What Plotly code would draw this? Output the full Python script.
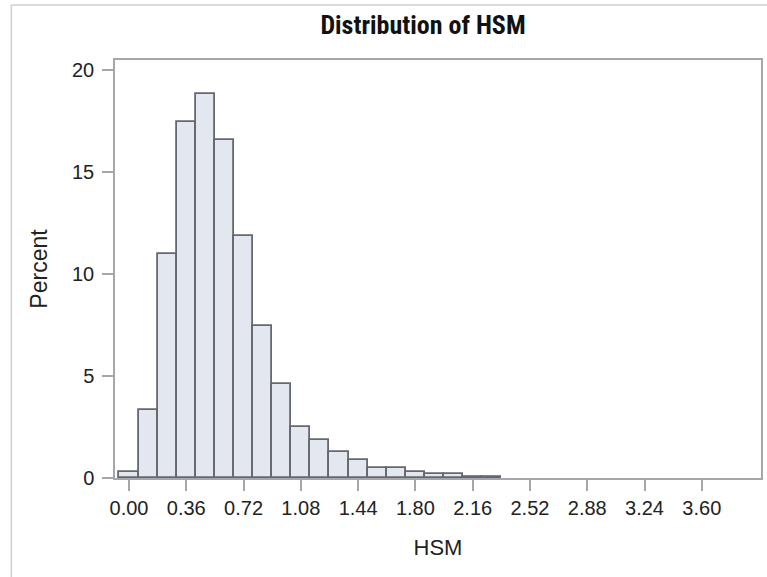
import plotly.graph_objects as go

# Histogram of HSM: bin centers (width 0.12) and percent per bin
bin_centers = [0.00, 0.12, 0.24, 0.36, 0.48, 0.60, 0.72, 0.84, 0.96, 1.08,
               1.20, 1.32, 1.44, 1.56, 1.68, 1.80, 1.92, 2.04, 2.16, 2.28]
percent = [0.28, 3.33, 10.98, 17.47, 18.84, 16.57, 11.85, 7.45, 4.59, 2.52,
           1.85, 1.27, 0.87, 0.47, 0.47, 0.28, 0.18, 0.18, 0.07, 0.07]
bin_width = 0.12
x_ticks = [0.00, 0.36, 0.72, 1.08, 1.44, 1.80, 2.16, 2.52, 2.88, 3.24, 3.60]
x_tick_labels = ["%.2f" % v for v in x_ticks]
y_ticks = [0, 5, 10, 15, 20]

W, H = 767, 577
L, R, T, B = 115, 4, 60, 99
pw, ph = W - L - R, H - T - B

def px(xpix):
    return (xpix - L) / pw

def py(ypix):
    return (H - B - ypix) / ph

fig = go.Figure()
fig.add_trace(go.Bar(
    x=bin_centers, y=percent, width=[bin_width] * len(bin_centers),
    marker=dict(color="#e2e7f0", line=dict(color="#65686e", width=1.8)),
    showlegend=False,
))

axis_color = "#a4a8ac"
font_main = "Liberation Sans, Arial, sans-serif"
fig.update_layout(
    width=W, height=H,
    margin=dict(l=L, r=R, t=T, b=B, pad=0),
    paper_bgcolor="white", plot_bgcolor="white",
    bargap=0,
    title=dict(text="<b>Distribution of HSM</b>",
               font=dict(family="Liberation Sans Narrow, Roboto Condensed, Arial Narrow, Liberation Sans",
                         size=26, color="#111111"),
               xref="container", x=423 / W, xanchor="center",
               y=1 - 25 / H, yanchor="middle"),
    xaxis=dict(range=[-0.088, 3.972], tickvals=x_ticks, ticktext=x_tick_labels,
               showgrid=False, zeroline=False, showline=True, linecolor=axis_color,
               linewidth=1.5, mirror=True, ticks="outside", ticklen=11,
               tickcolor=axis_color, tickwidth=1.5,
               tickfont=dict(family=font_main, size=20, color="#222222"),
               title=dict(text="HSM", font=dict(family=font_main, size=22, color="#222222"),
                          standoff=22)),
    yaxis=dict(range=[0, 20.5], tickvals=y_ticks,
               showgrid=False, zeroline=False, showline=True, linecolor=axis_color,
               linewidth=1.5, mirror=True, ticks="outside", ticklen=11,
               tickcolor=axis_color, tickwidth=1.5, ticklabelstandoff=4,
               tickfont=dict(family=font_main, size=20, color="#222222"),
               title=dict(text="Percent", font=dict(family=font_main, size=23, color="#222222"),
                          standoff=18)),
)

# outer page frame lines (left and top)
fig.add_shape(type="line", xref="paper", yref="paper",
              x0=px(11), x1=px(800), y0=py(5), y1=py(5),
              line=dict(color="#cfcfcf", width=1.5))
fig.add_shape(type="line", xref="paper", yref="paper",
              x0=px(11), x1=px(11), y0=py(5), y1=py(600),
              line=dict(color="#cfcfcf", width=1.5))

fig.write_html("out.html",
               config={"displayModeBar": False},
               post_script="document.body.style.margin='0';document.body.style.overflow='hidden';")
